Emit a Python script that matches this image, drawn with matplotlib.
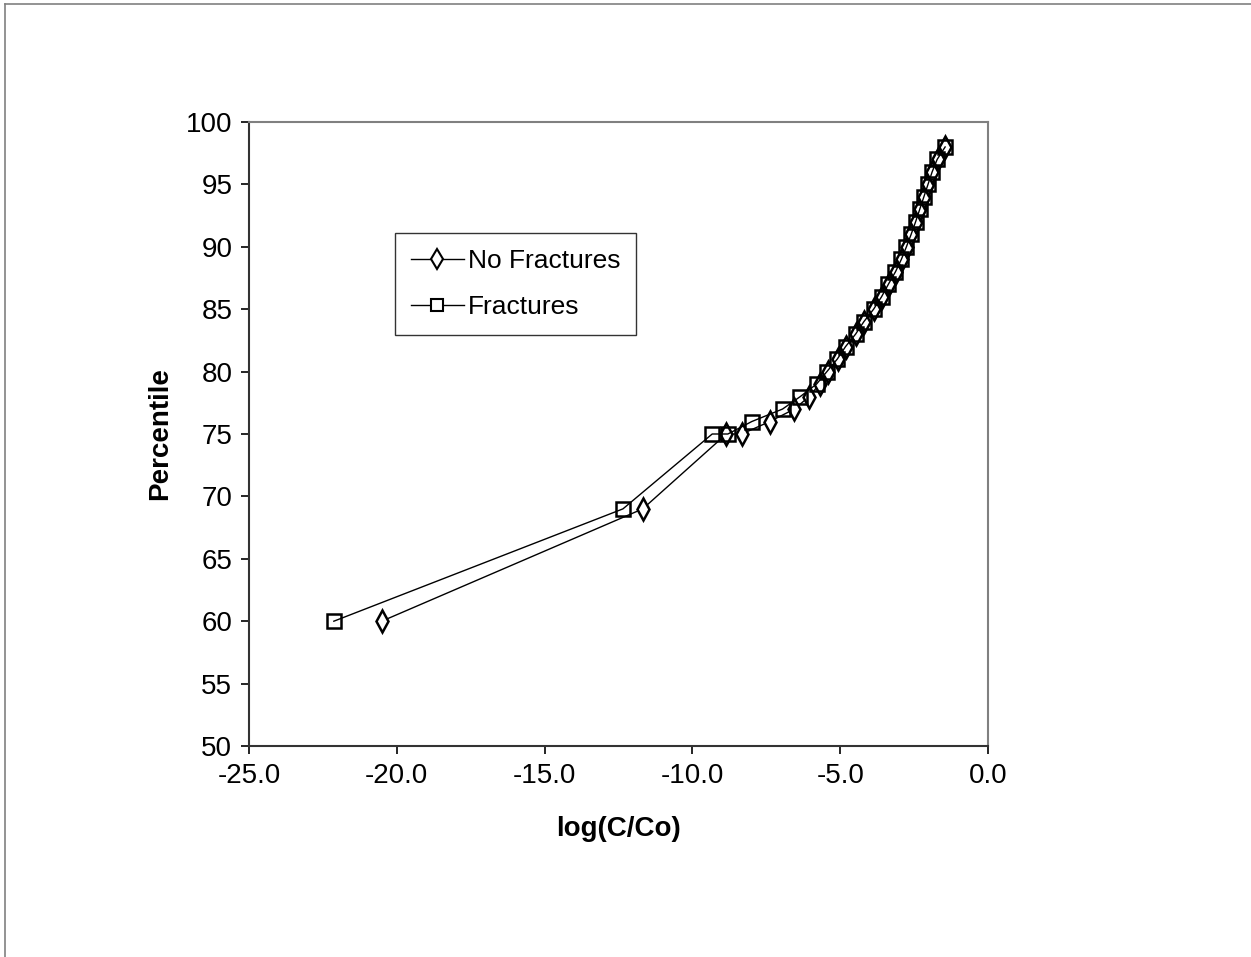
import matplotlib
matplotlib.use("Agg")
import matplotlib.pyplot as plt
from matplotlib.lines import Line2D
from matplotlib.ticker import FormatStrFormatter

plt.rcParams["font.family"] = ["Liberation Sans", "DejaVu Sans"]

# percentile levels and log(C/Co)
pct_nofrac = [60, 69, 75, 75, 76, 77, 78, 79, 80, 81, 82, 83, 84, 85, 86, 87, 88,
              89, 90, 91, 92, 93, 94, 95, 96, 97, 98]
logc_nofrac = [-20.51, -11.68, -8.85, -8.33, -7.38, -6.55, -6.05, -5.70, -5.42, -5.08,
               -4.80, -4.46, -4.18, -3.86, -3.58, -3.35, -3.12, -2.92, -2.75, -2.59,
               -2.44, -2.30, -2.16, -2.02, -1.88, -1.70, -1.44]

pct_frac = [60, 69, 75, 75, 76, 77, 78, 79, 80, 81, 82, 83, 84, 85, 86, 87, 88,
            89, 90, 91, 92, 93, 94, 95, 96, 97, 98]
logc_frac = [-22.13, -12.35, -9.33, -8.80, -7.99, -6.95, -6.35, -5.80, -5.45, -5.10,
             -4.82, -4.48, -4.20, -3.87, -3.60, -3.37, -3.13, -2.93, -2.76, -2.60,
             -2.45, -2.31, -2.17, -2.03, -1.89, -1.72, -1.45]

fig = plt.figure(figsize=(12.51, 9.57), dpi=100)
ax = fig.add_axes([249 / 1251, 1 - 746 / 957, 739 / 1251, 624 / 957])

ax.plot(logc_nofrac, pct_nofrac, color="black", linewidth=1.0, marker="d",
        markersize=11, markerfacecolor="white", markeredgecolor="black",
        markeredgewidth=1.8, label="No Fractures", zorder=3)
ax.plot(logc_frac, pct_frac, color="black", linewidth=1.0, marker="s",
        markersize=9.5, markerfacecolor="none", markeredgecolor="black",
        markeredgewidth=1.8, label="Fractures", zorder=4)

ax.set_xlim(-25, 0)
ax.set_ylim(50, 100)
ax.set_xticks([-25, -20, -15, -10, -5, 0])
ax.set_yticks(range(50, 101, 5))
ax.xaxis.set_major_formatter(FormatStrFormatter("%.1f"))
ax.tick_params(direction="out", length=6, width=1.2, labelsize=20, pad=6)

for side in ["top", "right"]:
    ax.spines[side].set_color("#808080")
    ax.spines[side].set_linewidth(1.5)
for side in ["left", "bottom"]:
    ax.spines[side].set_color("#333333")
    ax.spines[side].set_linewidth(1.5)

ax.set_xlabel("log(C/Co)", fontsize=20, fontweight="bold", labelpad=20)
ax.set_ylabel("Percentile", fontsize=20, fontweight="bold", labelpad=9)

handles = [
    Line2D([], [], color="black", linewidth=1.0, marker="d", markersize=10,
           markerfacecolor="white", markeredgecolor="black", markeredgewidth=1.5),
    Line2D([], [], color="black", linewidth=1.0, marker="s", markersize=8.5,
           markerfacecolor="white", markeredgecolor="black", markeredgewidth=1.5),
]
leg = ax.legend(handles, ["No Fractures", "Fractures"], loc="upper left",
                bbox_to_anchor=((395 - 249) / 739, (746 - 233) / 624),
                fontsize=19, frameon=True, fancybox=False, handlelength=2.0,
                handletextpad=0.15, borderpad=0.6, labelspacing=0.85,
                borderaxespad=0)
leg.get_frame().set_edgecolor("black")
leg.get_frame().set_linewidth(1.0)

# outer page border
fig.add_artist(Line2D([5 / 1251, 5 / 1251], [0, 1 - 4 / 957], color="#808080",
                      linewidth=1.2, transform=fig.transFigure))
fig.add_artist(Line2D([5 / 1251, 1], [1 - 4 / 957, 1 - 4 / 957], color="#808080",
                      linewidth=1.2, transform=fig.transFigure))

fig.savefig("out.png", dpi=100)
